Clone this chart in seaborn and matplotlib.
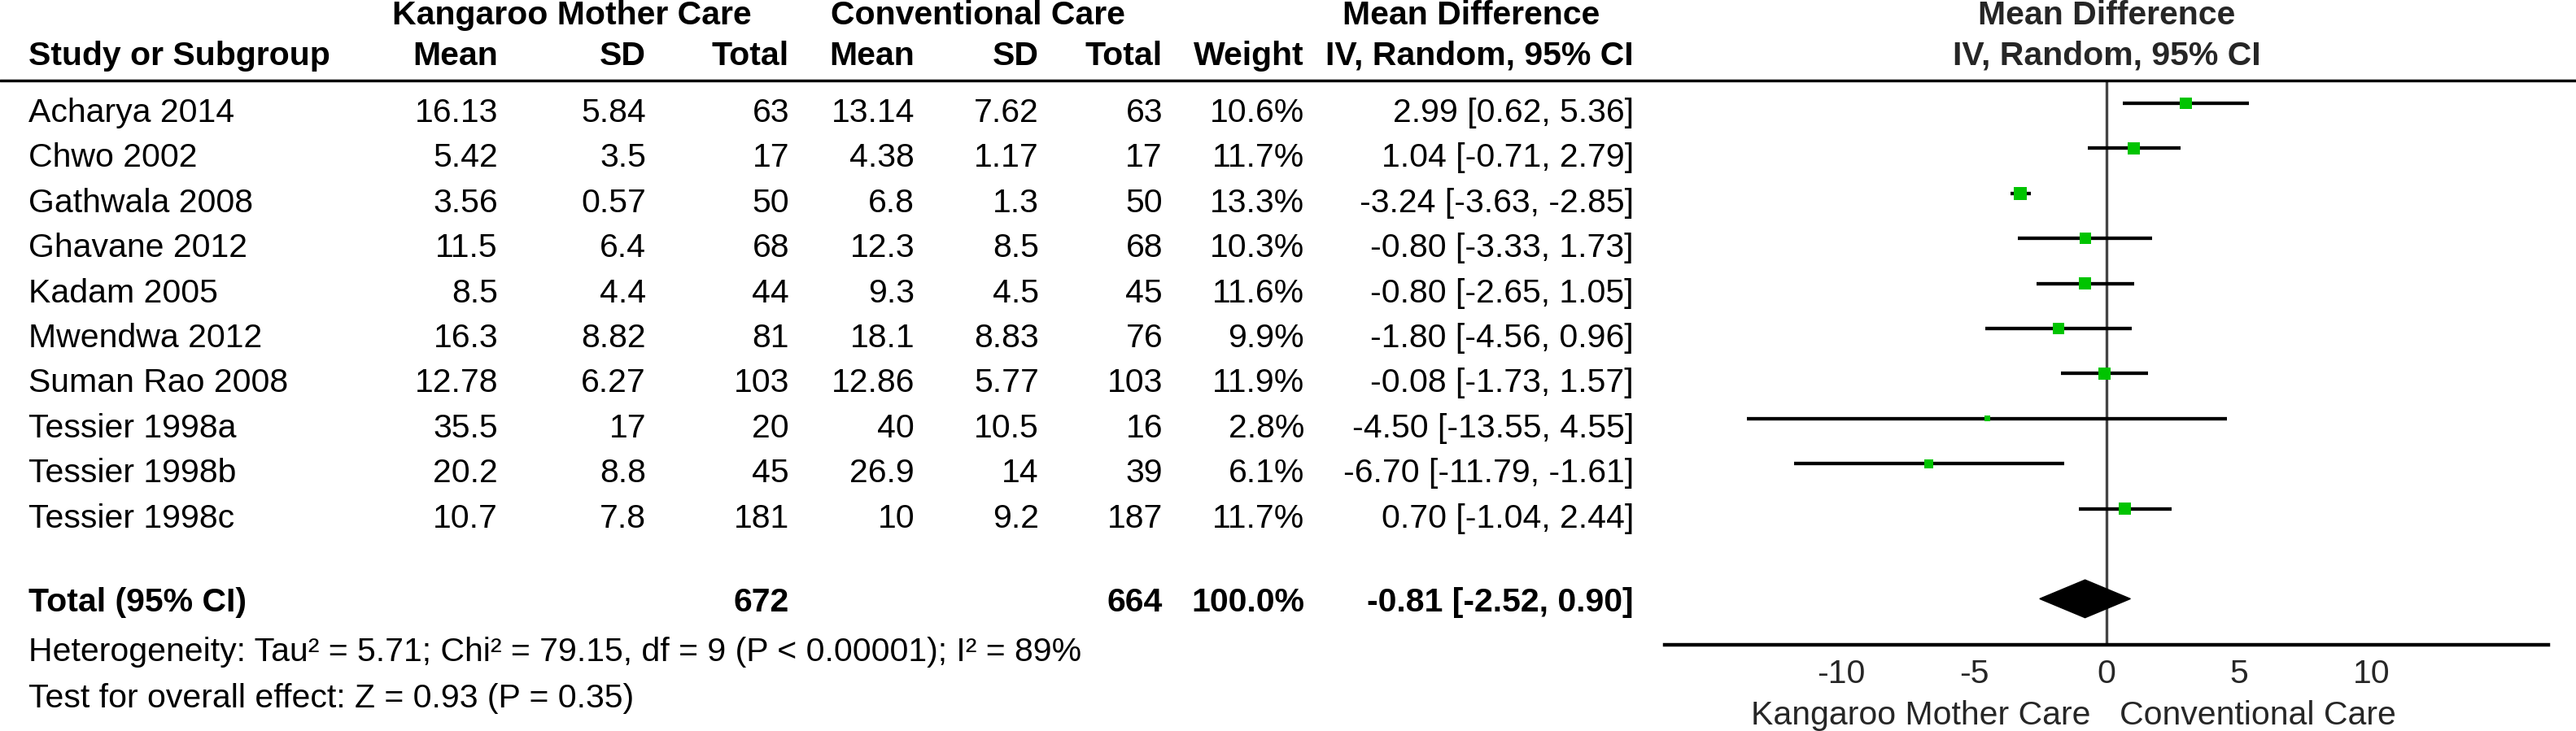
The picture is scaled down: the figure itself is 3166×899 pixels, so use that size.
import numpy as np
import pandas as pd
import seaborn as sns
import matplotlib.pyplot as plt
import matplotlib.transforms as mtransforms
from matplotlib.lines import Line2D
from matplotlib.patches import Polygon

# data
studies = ["Acharya 2014", "Chwo 2002", "Gathwala 2008", "Ghavane 2012", "Kadam 2005",
           "Mwendwa 2012", "Suman Rao 2008", "Tessier 1998a", "Tessier 1998b", "Tessier 1998c"]
kmc_mean = [16.13, 5.42, 3.56, 11.5, 8.5, 16.3, 12.78, 35.5, 20.2, 10.7]
kmc_sd = [5.84, 3.5, 0.57, 6.4, 4.4, 8.82, 6.27, 17, 8.8, 7.8]
kmc_n = [63, 17, 50, 68, 44, 81, 103, 20, 45, 181]
cc_mean = [13.14, 4.38, 6.8, 12.3, 9.3, 18.1, 12.86, 40, 26.9, 10]
cc_sd = [7.62, 1.17, 1.3, 8.5, 4.5, 8.83, 5.77, 10.5, 14, 9.2]
cc_n = [63, 17, 50, 68, 45, 76, 103, 16, 39, 187]
weight = [10.6, 11.7, 13.3, 10.3, 11.6, 9.9, 11.9, 2.8, 6.1, 11.7]
md = [2.99, 1.04, -3.24, -0.80, -0.80, -1.80, -0.08, -4.50, -6.70, 0.70]
ci_lo = [0.62, -0.71, -3.63, -3.33, -2.65, -4.56, -1.73, -13.55, -11.79, -1.04]
ci_hi = [5.36, 2.79, -2.85, 1.73, 1.05, 0.96, 1.57, 4.55, -1.61, 2.44]

total_kmc_n = 672
total_cc_n = 664
total_weight = 100.0
total_md, total_lo, total_hi = -0.81, -2.52, 0.90

heterogeneity = "Heterogeneity: Tau² = 5.71; Chi² = 79.15, df = 9 (P < 0.00001); I² = 89%"
overall = "Test for overall effect: Z = 0.93 (P = 0.35)"
xticks = [-10, -5, 0, 5, 10]
favours = ["Kangaroo Mother Care", "Conventional Care"]

df = pd.DataFrame({"study": studies, "md": md, "lo": ci_lo, "hi": ci_hi, "weight": weight})
df["row"] = np.arange(len(df))
total_row = len(df) + 1

sns.set_theme(style="white")
plt.rcParams["font.family"] = ["Liberation Sans", "DejaVu Sans"]
FS = 29.5

W, H = 3166, 899
fig = plt.figure(figsize=(W / 100, H / 100), dpi=100)

# forest panel, placed in pixels
px_l, px_r, px_t, px_b = 2046, 3132, 99, 793
ax = fig.add_axes([px_l / W, 1 - px_b / H, (px_r - px_l) / W, (px_b - px_t) / H])
row_px = 55.4
ax.set_xlim(-16.66, 16.66)
ax.set_ylim((px_b - 127) / row_px, (px_t - 127) / row_px)

ax.axvline(0, color="#444444", lw=2.4, zorder=1)
ax.hlines(df["row"], df["lo"], df["hi"], color="black", lw=3.1, zorder=2)
sns.scatterplot(data=df, x="md", y="row", size="weight",
                sizes=(10 * min(weight), 10 * max(weight)),
                size_norm=(min(weight), max(weight)),
                marker="s", color="#00c400", edgecolor="none", linewidth=0,
                legend=False, ax=ax, zorder=3)
h = 0.42
ax.add_patch(Polygon([(total_lo, total_row), (total_md, total_row - h),
                      (total_hi, total_row), (total_md, total_row + h)],
                     closed=True, color="black", zorder=4))

for s in ["left", "right", "top"]:
    ax.spines[s].set_visible(False)
ax.spines["bottom"].set_linewidth(3.2)
ax.spines["bottom"].set_color("black")
ax.set_yticks([])
ax.set_xticks(xticks)
ax.set_xticklabels([str(t) for t in xticks], fontsize=FS)
ax.tick_params(axis="x", direction="in", length=11.5, width=1.6, color="black", pad=12)
ax.set_xlabel("")
ax.set_ylabel("")

# table text: x in figure pixels, y in forest rows
tr = mtransforms.blended_transform_factory(fig.transFigure, ax.transData)
off = (150 - 127) / row_px


def put(x_px, row, txt, ha="right", bold=False):
    fig.text(x_px / W, row, txt, transform=tr, ha=ha, va="baseline",
             fontsize=FS, fontweight="bold" if bold else "normal", color="black")


cols = [612, 794, 970, 1124, 1277, 1429, 1603, 2008]

# headers
r1 = (30 - 127) / row_px
r2 = (80 - 127) / row_px
put(703, r1, "Kangaroo Mother Care", ha="center", bold=True)
put(1202, r1, "Conventional Care", ha="center", bold=True)
put(1808, r1, "Mean Difference", ha="center", bold=True)
put(35, r2, "Study or Subgroup", ha="left", bold=True)
for x, lab in zip(cols, ["Mean", "SD", "Total", "Mean", "SD", "Total", "Weight", "IV, Random, 95% CI"]):
    put(x, r2, lab, bold=True)
ax.text(0, r1, "Mean Difference", ha="center", va="baseline", fontsize=FS,
        fontweight="bold", clip_on=False)
ax.text(0, r2, "IV, Random, 95% CI", ha="center", va="baseline", fontsize=FS,
        fontweight="bold", clip_on=False)

ul = (px_t - 127) / row_px
fig.add_artist(Line2D([0, 1], [ul, ul], transform=tr, color="black", lw=2.5))

# study rows
for i in range(len(studies)):
    r = i + off
    put(35, r, studies[i], ha="left")
    vals = [f"{kmc_mean[i]:g}", f"{kmc_sd[i]:g}", f"{kmc_n[i]}",
            f"{cc_mean[i]:g}", f"{cc_sd[i]:g}", f"{cc_n[i]}",
            f"{weight[i]:.1f}%", f"{md[i]:.2f} [{ci_lo[i]:.2f}, {ci_hi[i]:.2f}]"]
    for x, v in zip(cols, vals):
        put(x, r, v)

# total row
rt = (752 - 127) / row_px
put(35, rt, "Total (95% CI)", ha="left", bold=True)
put(cols[2], rt, f"{total_kmc_n}", bold=True)
put(cols[5], rt, f"{total_cc_n}", bold=True)
put(cols[6], rt, f"{total_weight:.1f}%", bold=True)
put(cols[7], rt, f"{total_md:.2f} [{total_lo:.2f}, {total_hi:.2f}]", bold=True)

put(35, (813 - 127) / row_px, heterogeneity, ha="left")
put(35, (870 - 127) / row_px, overall, ha="left")

# favours labels under the axis
trb = mtransforms.blended_transform_factory(ax.transData, fig.transFigure)
ax.text(-0.6, 1 - 891 / H, favours[0], transform=trb, ha="right", va="baseline", fontsize=FS)
ax.text(0.5, 1 - 891 / H, favours[1], transform=trb, ha="left", va="baseline", fontsize=FS)

fig.savefig("out.png", dpi=100)
